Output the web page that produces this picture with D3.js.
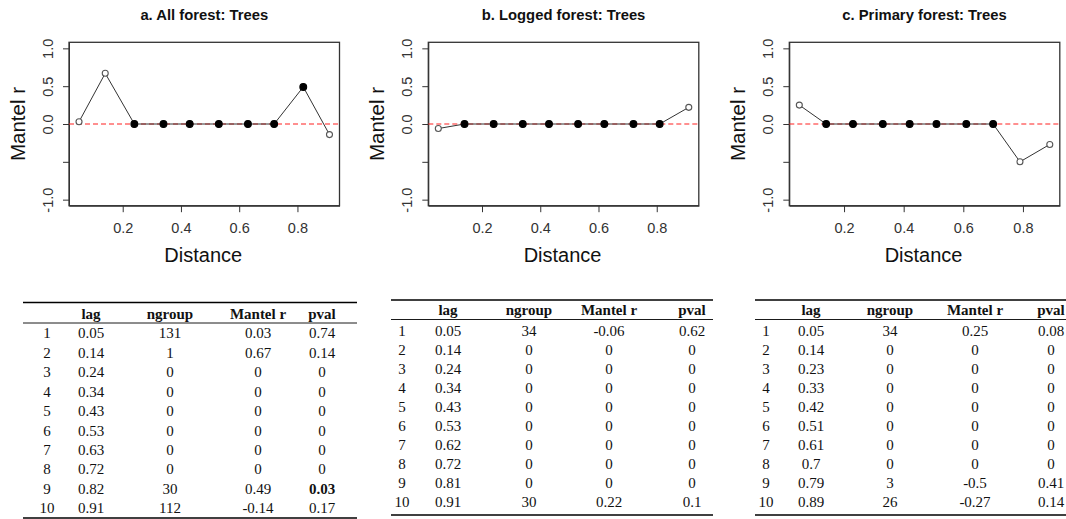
<!DOCTYPE html>
<html>
<head>
<meta charset="utf-8">
<script src="https://cdn.jsdelivr.net/npm/d3@7"></script>
<style>
  body { margin: 0; background: #fff; }
  svg { display: block; }
  .axis text { font-family: "Liberation Sans", Arial, sans-serif; font-size: 14.5px; fill: #333; }
  .axis path, .axis line { stroke: #333; }
  .tbl text { font-family: "Liberation Serif", "Times New Roman", serif; font-size: 15px; fill: #111; }
</style>
</head>
<body>
<div id="chart"></div>
<script>
'use strict';

let lagA = [0.05, 0.14, 0.24, 0.34, 0.43, 0.53, 0.63, 0.72, 0.82, 0.91];
let ngroupA = [131, 1, 0, 0, 0, 0, 0, 0, 30, 112];
let mantelA = [0.03, 0.67, 0, 0, 0, 0, 0, 0, 0.49, -0.14];
let pvalA = [0.74, 0.14, 0, 0, 0, 0, 0, 0, 0.03, 0.17];

let lagB = [0.05, 0.14, 0.24, 0.34, 0.43, 0.53, 0.62, 0.72, 0.81, 0.91];
let ngroupB = [34, 0, 0, 0, 0, 0, 0, 0, 0, 30];
let mantelB = [-0.06, 0, 0, 0, 0, 0, 0, 0, 0, 0.22];
let pvalB = [0.62, 0, 0, 0, 0, 0, 0, 0, 0, 0.1];

let lagC = [0.05, 0.14, 0.23, 0.33, 0.42, 0.51, 0.61, 0.7, 0.79, 0.89];
let ngroupC = [34, 0, 0, 0, 0, 0, 0, 0, 3, 26];
let mantelC = [0.25, 0, 0, 0, 0, 0, 0, 0, -0.5, -0.27];
let pvalC = [0.08, 0, 0, 0, 0, 0, 0, 0, 0.41, 0.14];

let titles = ['a. All forest: Trees', 'b. Logged forest: Trees', 'c. Primary forest: Trees'];
let headers = ['', 'lag', 'ngroup', 'Mantel r', 'pval'];
let yTicks = [-1, -0.5, 0, 0.5, 1];
let yTickLabels = ['-1.0', '', '0.0', '0.5', '1.0'];
let xTicks = [0.2, 0.4, 0.6, 0.8];

let panels = [
	{lag: lagA, ngroup: ngroupA, mantel: mantelA, pval: pvalA, left: 69,
	 tbl: {x0: 23, x1: 357, top: 302.5, head: 323, row1: 333, step: 19.45, bottom: 518, cols: [47, 91, 170, 258, 322]}},
	{lag: lagB, ngroup: ngroupB, mantel: mantelB, pval: pvalB, left: 428.3,
	 tbl: {x0: 391, x1: 713, top: 300, head: 319.5, row1: 331, step: 19.0, bottom: 515, cols: [402, 448, 529, 609, 692]}},
	{lag: lagC, ngroup: ngroupC, mantel: mantelC, pval: pvalC, left: 789.3,
	 tbl: {x0: 755, x1: 1066, top: 300, head: 319.5, row1: 331, step: 19.0, bottom: 515, cols: [766, 811, 890, 975, 1051]}}
];

let W = 1066, H = 519;
let boxW = 270.5, boxTop = 42.3, boxBottom = 205.7;

let svg = d3.select('#chart').append('svg')
	.attr('width', W)
	.attr('height', H);

svg.append('rect').attr('width', W).attr('height', H).attr('fill', '#fff');

panels.forEach((p, k) => {
	let lo = d3.min(p.lag), hi = d3.max(p.lag);
	let pad = (hi - lo) * 0.04;
	let x = d3.scaleLinear().domain([lo - pad, hi + pad]).range([p.left, p.left + boxW]);
	let y = d3.scaleLinear().domain([-1.08, 1.08]).range([boxBottom, boxTop]);

	let g = svg.append('g');

	// title
	g.append('text')
		.attr('x', p.left + boxW / 2)
		.attr('y', 19.5)
		.attr('text-anchor', 'middle')
		.style('font-family', '"Liberation Sans", Arial, sans-serif')
		.style('font-weight', 'bold')
		.style('font-size', '14.8px')
		.style('fill', '#111')
		.text(titles[k]);

	// axes
	let xAxis = g.append('g')
		.classed('axis', true)
		.attr('transform', `translate(0,${boxBottom})`)
		.call(d3.axisBottom(x).tickValues(xTicks).tickSize(6.5).tickSizeOuter(0).tickFormat(d3.format('.1f')));
	xAxis.selectAll('text').attr('y', 27.5).attr('dy', null);

	let yAxis = g.append('g')
		.classed('axis', true)
		.attr('transform', `translate(${p.left},0)`)
		.call(d3.axisLeft(y).tickValues(yTicks).tickSize(6).tickSizeOuter(0).tickFormat((d, i) => yTickLabels[i]));
	yAxis.selectAll('text')
		.attr('x', null).attr('dy', null)
		.attr('transform', 'translate(-21.5,0) rotate(-90)')
		.attr('text-anchor', 'middle')
		.attr('dominant-baseline', 'central');

	// box
	g.append('rect')
		.attr('x', p.left)
		.attr('y', boxTop)
		.attr('width', boxW)
		.attr('height', boxBottom - boxTop)
		.attr('fill', 'none')
		.attr('stroke', '#333')
		.attr('stroke-width', 1.3);

	// axis titles
	g.append('text')
		.attr('transform', `translate(${p.left - 44.5},${(boxTop + boxBottom) / 2}) rotate(-90)`)
		.attr('text-anchor', 'middle')
		.style('font-family', '"Liberation Sans", Arial, sans-serif')
		.style('font-size', '20.5px')
		.style('fill', '#111')
		.text('Mantel r');

	g.append('text')
		.attr('x', p.left + boxW / 2 - 1)
		.attr('y', 262)
		.attr('text-anchor', 'middle')
		.style('font-family', '"Liberation Sans", Arial, sans-serif')
		.style('font-size', '20px')
		.style('fill', '#111')
		.text('Distance');

	// zero reference line
	g.append('line')
		.attr('x1', p.left).attr('x2', p.left + boxW)
		.attr('y1', y(0)).attr('y2', y(0))
		.attr('stroke', '#ff2020')
		.attr('stroke-width', 1.2)
		.attr('stroke-dasharray', '5,3');

	let pts = p.lag.map((d, i) => ({lag: d, r: p.mantel[i], pval: p.pval[i]}));

	g.append('path')
		.datum(pts)
		.attr('d', d3.line().x(d => x(d.lag)).y(d => y(d.r)))
		.attr('fill', 'none')
		.attr('stroke', '#333')
		.attr('stroke-width', 1);

	g.selectAll('circle.pt')
		.data(pts)
		.join('circle')
		.classed('pt', true)
		.attr('cx', d => x(d.lag))
		.attr('cy', d => y(d.r))
		.attr('r', d => d.pval <= 0.05 ? 3.4 : 3)
		.attr('fill', d => d.pval <= 0.05 ? '#000' : '#fff')
		.attr('stroke', d => d.pval <= 0.05 ? '#000' : '#555')
		.attr('stroke-width', 1.1);

	// table
	let t = p.tbl;
	let tg = svg.append('g').classed('tbl', true);

	tg.append('line').attr('x1', t.x0).attr('x2', t.x1).attr('y1', t.top).attr('y2', t.top)
		.attr('stroke', '#000').attr('stroke-width', 1.4);
	tg.append('line').attr('x1', t.x0).attr('x2', t.x1).attr('y1', t.head).attr('y2', t.head)
		.attr('stroke', '#000').attr('stroke-width', 0.9);
	tg.append('line').attr('x1', t.x0).attr('x2', t.x1).attr('y1', t.bottom).attr('y2', t.bottom)
		.attr('stroke', '#000').attr('stroke-width', 1.6);

	tg.selectAll('text.hd')
		.data(headers)
		.join('text')
		.classed('hd', true)
		.attr('x', (d, i) => t.cols[i])
		.attr('y', t.head - 4.5)
		.attr('text-anchor', 'middle')
		.style('font-weight', 'bold')
		.text(d => d);

	let rows = pts.map((d, i) => [String(i + 1), String(d.lag), String(p.ngroup[i]), String(d.r), String(d.pval)]);
	rows.forEach((row, ri) => {
		tg.selectAll(null)
			.data(row)
			.join('text')
			.attr('x', (d, i) => t.cols[i])
			.attr('y', t.row1 + ri * t.step)
			.attr('dy', '0.35em')
			.attr('text-anchor', 'middle')
			.style('font-weight', (d, i) => (i === 4 && p.pval[ri] > 0 && p.pval[ri] <= 0.05) ? 'bold' : null)
			.text(d => d);
	});
});
</script>
</body>
</html>
